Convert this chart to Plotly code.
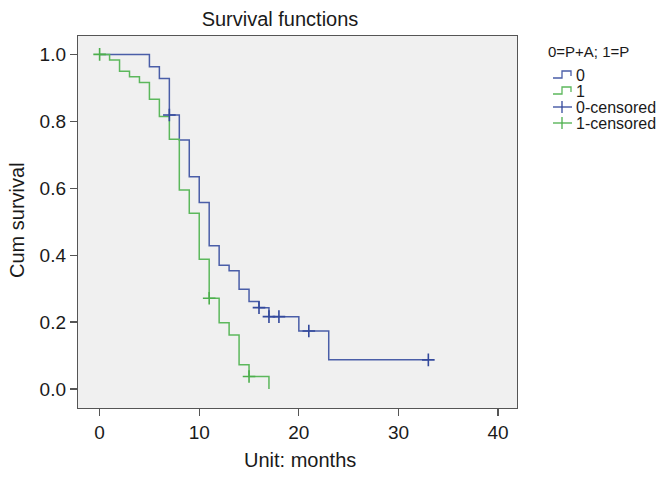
import plotly.graph_objects as go

# Group 0 (P+A) Kaplan-Meier steps
t0 = [0, 5, 6, 7, 8, 9, 10, 11, 12, 13, 14, 15, 16, 17, 20, 23, 33]
s0 = [1.0, 0.963, 0.928, 0.819, 0.744, 0.634, 0.557, 0.428, 0.370, 0.353,
      0.298, 0.261, 0.243, 0.216, 0.173, 0.087, 0.087]
c0_t = [7, 16, 17, 18, 21, 33]
c0_s = [0.819, 0.243, 0.216, 0.216, 0.173, 0.087]

# Group 1 (P)
t1 = [0, 1, 2, 3, 4, 5, 6, 7, 8, 9, 10, 11, 12, 13, 14, 15, 17]
s1 = [1.0, 0.983, 0.950, 0.933, 0.916, 0.866, 0.814, 0.746, 0.595, 0.525,
      0.388, 0.271, 0.198, 0.161, 0.072, 0.037, 0.0]
c1_t = [0, 11, 15]
c1_s = [1.0, 0.271, 0.037]

x_ticks = [0, 10, 20, 30, 40]
y_ticks = [0.0, 0.2, 0.4, 0.6, 0.8, 1.0]
y_labels = ["0.0", "0.2", "0.4", "0.6", "0.8", "1.0"]

legend_title = "0=P+A; 1=P"
legend_labels = ["0", "1", "0-censored", "1-censored"]

BLUE = "#4a5ea8"
GREEN = "#5cb85c"
BLUE_C = "#33499c"
GREEN_C = "#4caf4c"
FONT = "Liberation Sans, Arial, sans-serif"
TXT = "#1a1a1a"

W, H = 666, 477
L, R, T, B = 78, 149, 36, 69
PW, PH = W - L - R, H - T - B


def px(xp):
    return (xp - L) / PW


def py(yp):
    return (H - B - yp) / PH


fig = go.Figure()
fig.add_trace(go.Scatter(x=t0, y=s0, mode="lines", line=dict(color=BLUE, width=1.5, shape="hv"),
                         name=legend_labels[0], showlegend=False))
fig.add_trace(go.Scatter(x=t1, y=s1, mode="lines", line=dict(color=GREEN, width=1.5, shape="hv"),
                         name=legend_labels[1], showlegend=False))
fig.add_trace(go.Scatter(x=c0_t, y=c0_s, mode="markers", name=legend_labels[2], showlegend=False,
                         marker=dict(symbol="cross-thin", size=9, line=dict(color=BLUE_C, width=1.6))))
fig.add_trace(go.Scatter(x=c1_t, y=c1_s, mode="markers", name=legend_labels[3], showlegend=False,
                         marker=dict(symbol="cross-thin", size=9, line=dict(color=GREEN_C, width=1.6))))

axis_common = dict(showline=True, mirror=True, linecolor="#555555", linewidth=1.2,
                   ticks="outside", ticklen=7, tickcolor="#555555", tickwidth=1.2,
                   showgrid=False, zeroline=False,
                   tickfont=dict(family=FONT, size=19, color=TXT))

annotations = [
    dict(text="Cum survival", x=px(17), y=py(220), xref="paper", yref="paper",
         textangle=-90, showarrow=False, xanchor="center", yanchor="middle",
         font=dict(family=FONT, size=20, color=TXT)),
    dict(text="Unit: months", x=px(300), y=py(460), xref="paper", yref="paper",
         showarrow=False, xanchor="center", yanchor="middle",
         font=dict(family=FONT, size=20, color=TXT)),
    dict(text=legend_title, x=px(546), y=py(52), xref="paper", yref="paper",
         showarrow=False, xanchor="left", yanchor="middle",
         font=dict(family=FONT, size=15, color=TXT)),
]

shapes = []
leg_y = [75, 91, 107, 123]
leg_col = [BLUE, GREEN, BLUE_C, GREEN_C]
for i, (lab, yy, col) in enumerate(zip(legend_labels, leg_y, leg_col)):
    annotations.append(dict(text=lab, x=px(574), y=py(yy), xref="paper", yref="paper",
                            showarrow=False, xanchor="left", yanchor="middle",
                            font=dict(family=FONT, size=16, color=TXT)))
    if i < 2:
        path = (f"M {px(553)},{py(yy + 3)} L {px(562)},{py(yy + 3)} L {px(562)},{py(yy - 4)} "
                f"L {px(571)},{py(yy - 4)} L {px(571)},{py(yy + 1)}")
        shapes.append(dict(type="path", path=path, xref="paper", yref="paper",
                           line=dict(color=col, width=1.3)))
    else:
        shapes.append(dict(type="line", x0=px(553), x1=px(572), y0=py(yy), y1=py(yy),
                           xref="paper", yref="paper", line=dict(color=col, width=1.3)))
        shapes.append(dict(type="line", x0=px(562), x1=px(562), y0=py(yy - 6), y1=py(yy + 6),
                           xref="paper", yref="paper", line=dict(color=col, width=1.3)))

fig.update_layout(
    width=W, height=H,
    margin=dict(l=L, r=R, t=T, b=B),
    paper_bgcolor="white",
    plot_bgcolor="#f0f0f0",
    title=dict(text="Survival functions", x=280 / W, xanchor="center", y=1 - 19 / H,
               yanchor="middle", font=dict(family=FONT, size=20, color=TXT)),
    xaxis=dict(range=[-2.17, 41.9], tickvals=x_ticks, **axis_common),
    yaxis=dict(range=[-0.057, 1.055], tickvals=y_ticks, ticktext=y_labels, **axis_common),
    annotations=annotations,
    shapes=shapes,
    showlegend=False,
    hovermode=False,
)

fig.write_html("out.html", config={"displayModeBar": False, "staticPlot": True},
               post_script="document.body.style.margin='0';document.body.style.overflow='hidden';")
